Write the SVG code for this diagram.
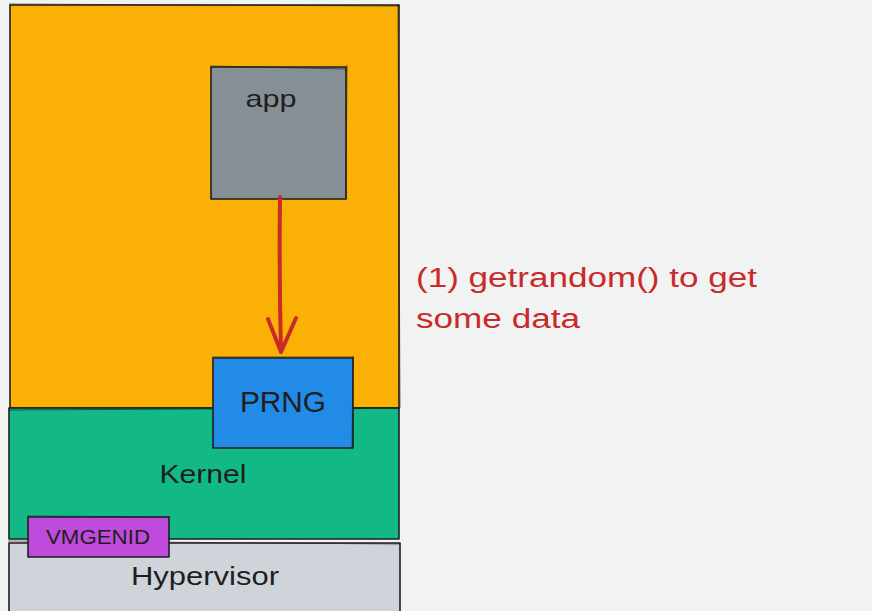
<svg xmlns="http://www.w3.org/2000/svg" width="872" height="611" viewBox="0 0 872 611">
  <defs>
    <style>
      .box { stroke: #1e1e1e; stroke-width: 1.6; stroke-linejoin: round; }
      .sketch { fill: none; stroke: #1e1e1e; stroke-width: 0.9; opacity: 0.7; }
      .label { font-family: "Liberation Sans", "DejaVu Sans", sans-serif; fill: #1e1e1e; text-anchor: middle; }
      .note { font-family: "Liberation Sans", "DejaVu Sans", sans-serif; fill: #c92a2a; font-size: 27px; }
      .wire { fill: none; stroke: #c92a2a; stroke-width: 4; stroke-linecap: round; stroke-linejoin: round; }
    </style>
  </defs>

  <!-- canvas -->
  <rect x="0" y="0" width="872" height="611" fill="#f1f2f2"/>

  <!-- user space layer -->
  <g id="userspace">
    <rect class="box" x="10" y="5" width="389" height="403" fill="#fab005"/>
    <path class="sketch" d="M9 4 L400 6 M398 4 L400 408"/>
  </g>

  <!-- kernel layer -->
  <g id="kernel">
    <rect class="box" x="9" y="408" width="390" height="131" fill="#12b886"/>
    <path class="sketch" d="M8 410 L400 408"/>
    <text class="label" x="203" y="483" font-size="26" textLength="87" lengthAdjust="spacingAndGlyphs">Kernel</text>
  </g>

  <!-- hypervisor layer -->
  <g id="hypervisor">
    <rect class="box" x="9" y="543" width="391" height="72" fill="#ced4da"/>
    <path class="sketch" d="M8 541 L401 544"/>
    <text class="label" x="205" y="585" font-size="26" textLength="148" lengthAdjust="spacingAndGlyphs">Hypervisor</text>
  </g>

  <!-- VMGENID device -->
  <g id="vmgenid">
    <rect class="box" x="28" y="517" width="141" height="40" fill="#be4bdb"/>
    <path class="sketch" d="M27 516 L170 517"/>
    <text class="label" x="98" y="544" font-size="20" textLength="104" lengthAdjust="spacingAndGlyphs">VMGENID</text>
  </g>

  <!-- application -->
  <g id="app">
    <rect class="box" x="211" y="67" width="135" height="132" fill="#868e96"/>
    <path class="sketch" d="M210 66 L347 69 M347 65 L346 200"/>
    <text class="label" x="271" y="107" font-size="24" textLength="51" lengthAdjust="spacingAndGlyphs">app</text>
  </g>

  <!-- PRNG -->
  <g id="prng">
    <rect class="box" x="213" y="358" width="140" height="90" fill="#228be6"/>
    <path class="sketch" d="M212 357 L354 357 M353 356 L352 449"/>
    <text class="label" x="283" y="412" font-size="29" textLength="86" lengthAdjust="spacingAndGlyphs">PRNG</text>
  </g>

  <!-- connectors -->
  <g id="connectors">
    <path class="wire" d="M280 197 Q279 275 281 352"/>
    <path class="wire" d="M268 319 L281 352 L296 318"/>
  </g>

  <!-- annotation -->
  <g id="annotation">
    <text class="note" x="416" y="287" textLength="341" lengthAdjust="spacingAndGlyphs">(1) getrandom() to get</text>
    <text class="note" x="416" y="328" textLength="164" lengthAdjust="spacingAndGlyphs">some data</text>
  </g>
</svg>
